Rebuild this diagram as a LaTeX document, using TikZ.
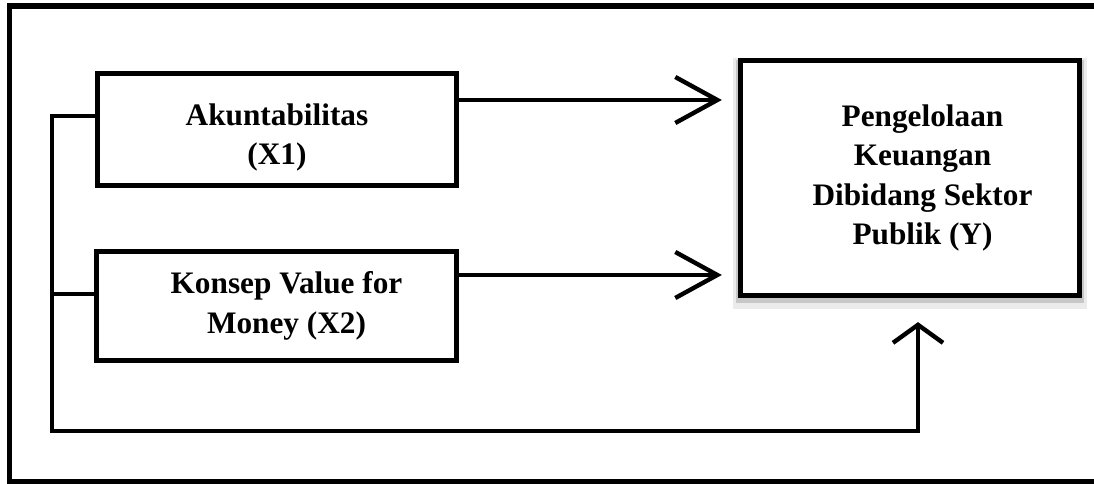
\documentclass[tikz,border=0pt]{standalone}
\usepackage{fontspec}
\setmainfont{Liberation Serif}
\usetikzlibrary{arrows.meta}

\begin{document}
\begin{tikzpicture}[
		varbox/.style={draw, line width=3pt, fill=white, align=center, font=\fontsize{17.8}{22.5}\selectfont\bfseries},
		link/.style={line width=2.5pt},
		sidearrow/.style={link, -{Straight Barb[length=0.84cm, width=0.92cm]}},
		uparrow/.style={link, -{Straight Barb[length=0.36cm, width=1cm]}}
	]
		\useasboundingbox (0,0) rectangle (21.88,9.68);
		% frame, open on the right
		\draw[line width=3pt] (21.88,9.56) -- (0.19,9.56) -- (0.19,0.05) -- (21.88,0.05);
		% independent variables
		\node[varbox, minimum width=7.18cm, minimum height=2.24cm] (X1) at (5.54,7.09) {\rule{0pt}{0.75cm}Akuntabilitas\\(X1)};
		\node[varbox, minimum width=7.2cm, minimum height=2.18cm] (X2) at (5.53,3.56) {\hspace*{0.4cm}Konsep Value for\\\hspace*{0.4cm}Money (X2)};
		% dependent variable
		\node[varbox, minimum width=6.78cm, minimum height=4.7cm,
			preaction={draw=black!8, line width=9pt, transform canvas={yshift=-3pt}},
			preaction={draw=black!22, line width=5pt, transform canvas={yshift=-2pt}}]
			(Y) at (18.2,6.12) {\hspace*{0.5cm}Pengelolaan\\\hspace*{0.5cm}Keuangan\\\hspace*{0.5cm}Dibidang Sektor\\\hspace*{0.5cm}Publik (Y)};
		% partial arrows
		\coordinate (a1) at ([yshift=0.59cm]X1.east);
		\coordinate (a2) at ([yshift=0.62cm]X2.east);
		\draw[sidearrow, shorten >=0.32cm] (a1) -- (a1 -| Y.west);
		\draw[sidearrow, shorten >=0.32cm] (a2) -- (a2 -| Y.west);
		% joint arrow
		\coordinate (corner) at (1.04,1.06);
		\coordinate (b2) at ([yshift=0.24cm]X2.west);
		\draw[uparrow, shorten >=0.48cm] ([yshift=0.27cm]X1.west) -| (corner) -| ([xshift=0.16cm]Y.south);
		\draw[link] (b2) -- (b2 -| corner);
	\end{tikzpicture}
\end{document}
